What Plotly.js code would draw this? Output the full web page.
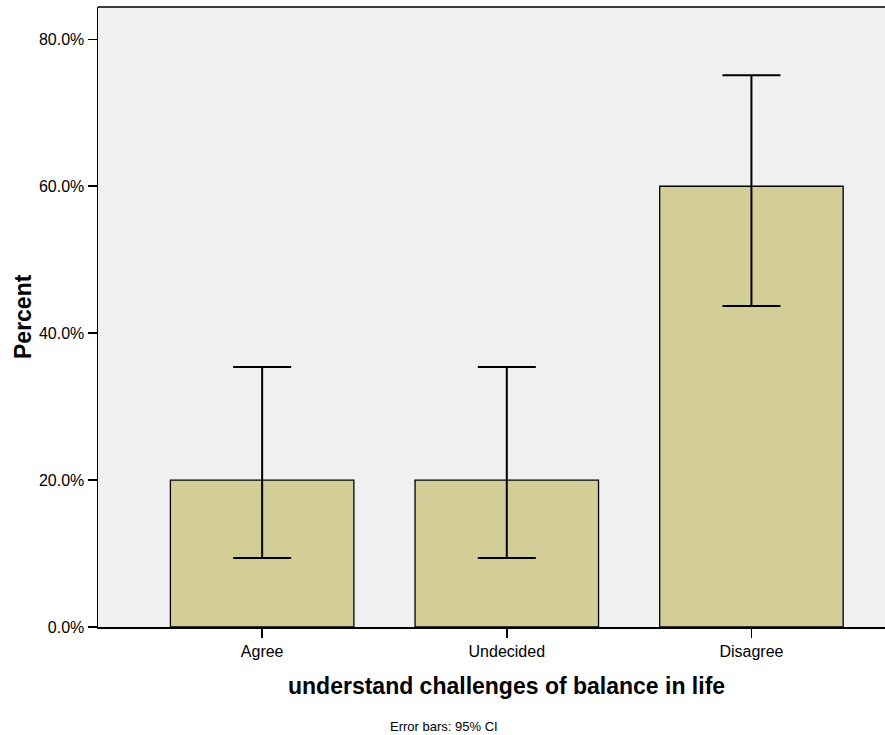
<!DOCTYPE html>
<html>
<head>
<meta charset="utf-8">
<script src="https://cdn.plot.ly/plotly-3.0.1.min.js"></script>
<style>html,body{margin:0;padding:0;background:#fff;}#chart{width:885px;height:735px;}</style>
</head>
<body>
<div id="chart"></div>
<script>
const categories = ["Agree", "Undecided", "Disagree"];
const percentValues = [20.0, 20.0, 60.0];
const ciUpper = [35.4, 35.4, 75.1];
const ciLower = [9.4, 9.4, 43.7];
const yTickValues = [0, 20, 40, 60, 80];
const yTickLabels = ["0.0%", "20.0%", "40.0%", "60.0%", "80.0%"];

const errPlus = percentValues.map((v, i) => ciUpper[i] - v);
const errMinus = percentValues.map((v, i) => v - ciLower[i]);

const trace = {
  type: "bar",
  x: [0, 1, 2],
  y: percentValues,
  width: 0.75,
  marker: {color: "#d3ce97", line: {color: "#000000", width: 1.3}},
  error_y: {
    type: "data", symmetric: false,
    array: errPlus, arrayminus: errMinus,
    color: "#000000", thickness: 2, width: 29
  },
  hoverinfo: "none"
};

const layout = {
  width: 885, height: 735,
  margin: {l: 98, r: 0, t: 7, b: 108},
  paper_bgcolor: "#ffffff",
  plot_bgcolor: "#f0f0f0",
  showlegend: false,
  font: {family: "Liberation Sans, Arial, sans-serif", color: "#000"},
  xaxis: {
    range: [-0.671, 2.546],
    tickvals: [0, 1, 2], ticktext: categories,
    ticks: "outside", ticklen: 9, tickwidth: 1.5, tickcolor: "#000",
    showline: true, linecolor: "#000", linewidth: 1.5,
    showgrid: false, zeroline: false,
    tickfont: {size: 16, color: "#000"}
  },
  yaxis: {
    range: [0, 84.4],
    tickvals: yTickValues, ticktext: yTickLabels,
    ticks: "outside", ticklen: 9, tickwidth: 1.5, tickcolor: "#000",
    showline: true, linecolor: "#000", linewidth: 1.5,
    showgrid: false, zeroline: false,
    tickfont: {size: 16, color: "#000"}
  },
  shapes: [
    {type: "line", xref: "paper", yref: "paper", x0: 0, x1: 1, y0: 1, y1: 1,
     line: {color: "#000", width: 1.5}}
  ],
  annotations: [
    {text: "<b>Percent</b>", xref: "paper", yref: "paper", x: -(98 - 23) / 787, y: 0.5,
     xanchor: "center", yanchor: "middle", textangle: -90, showarrow: false,
     font: {size: 23, color: "#000"}},
    {text: "<b>understand challenges of balance in life</b>", xref: "x", yref: "paper",
     x: 1, y: -0.095, yanchor: "middle", showarrow: false, font: {size: 23, color: "#000"}},
    {text: "Error bars: 95% CI", xref: "paper", yref: "paper",
     x: (444 - 98) / 787, y: -0.161, yanchor: "middle", showarrow: false, font: {size: 13, color: "#000"}}
  ]
};

Plotly.newPlot("chart", [trace], layout, {displayModeBar: false, staticPlot: true});
</script>
</body>
</html>
